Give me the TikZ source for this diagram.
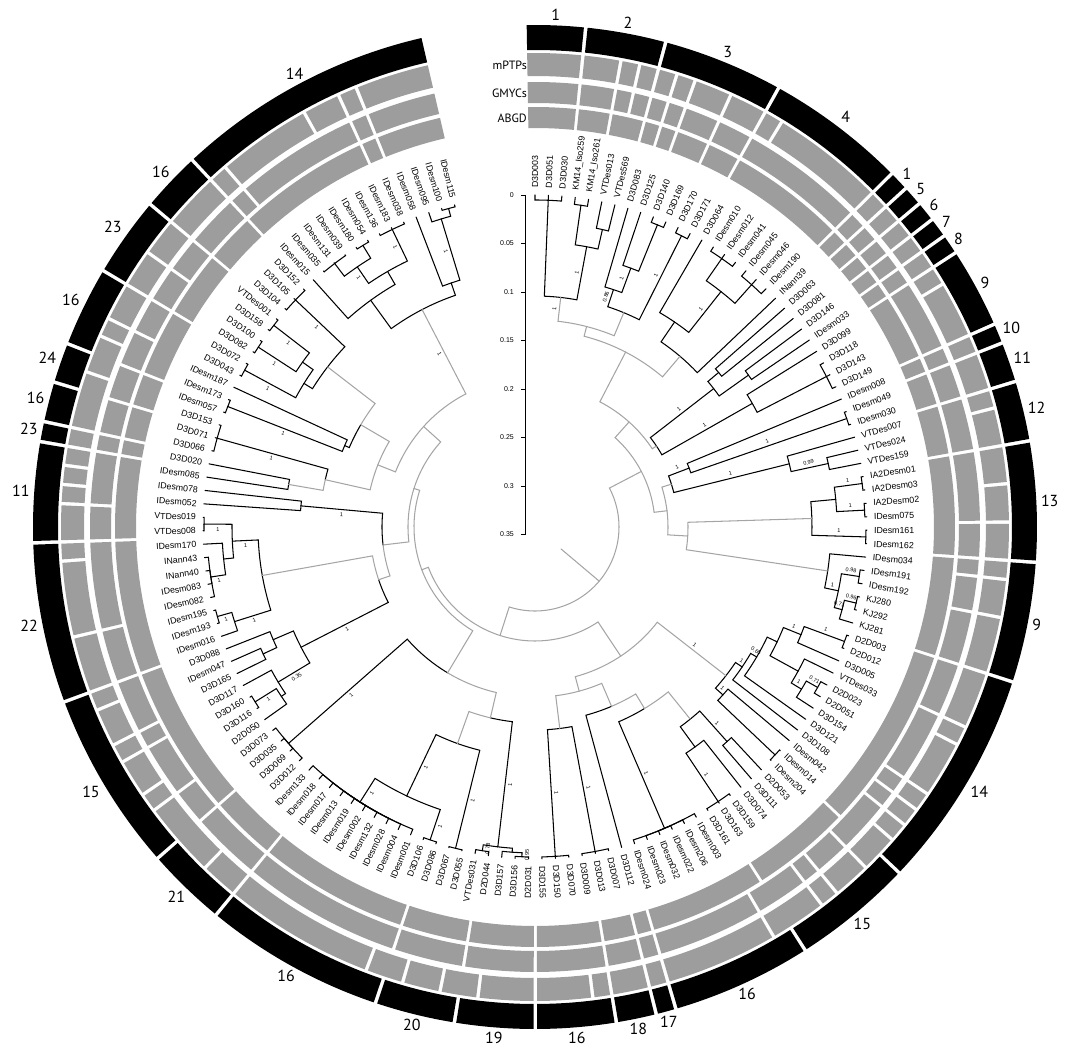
\documentclass[tikz,border=0pt]{standalone}
\usepackage{fontspec}
\setmainfont{Liberation Sans}
\newfontfamily\ptsans{PT Sans}
\definecolor{ringg}{RGB}{157,157,157}
\definecolor{brg}{RGB}{165,165,165}
\makeatletter
\def\stp{2.322}
\newcommand\inittips{\foreach \i in {1,...,150}{%
  \expandafter\xdef\csname P@t\i\endcsname{\i}%
  \expandafter\xdef\csname R@t\i\endcsname{332}%
  \expandafter\xdef\csname S@t\i\endcsname{black}}}
% \nd{name}{radius}{children}{stem colour}
\newcommand\nd[4]{%
  \global\let\nd@first\relax
  \foreach \ch in {#3}{%
    \edef\nd@p{\csname P@\ch\endcsname}%
    \ifx\nd@first\relax\xdef\nd@first{\nd@p}\fi
    \xdef\nd@last{\nd@p}}%
  \pgfmathsetmacro\nd@mid{(\nd@first+\nd@last)/2}%
  \pgfmathsetmacro\nd@ma{90-(\nd@mid-1)*\stp}%
  \foreach \ch in {#3}{%
    \edef\nd@p{\csname P@\ch\endcsname}%
    \edef\nd@r{\csname R@\ch\endcsname}%
    \edef\nd@s{\csname S@\ch\endcsname}%
    \expandafter\xdef\csname Q@\ch\endcsname{#2}%
    \pgfmathsetmacro\nd@a{90-(\nd@p-1)*\stp}%
    \draw[brw,color=\nd@s] (\nd@a:\nd@r) -- (\nd@a:#2) arc[start angle=\nd@a,end angle=\nd@ma,radius=#2];}%
  \expandafter\xdef\csname P@#1\endcsname{\nd@mid}%
  \expandafter\xdef\csname R@#1\endcsname{#2}%
  \expandafter\xdef\csname S@#1\endcsname{#4}%
}
\newcommand\supp[2]{%
  \edef\sp@p{\csname P@#1\endcsname}\edef\sp@r{\csname R@#1\endcsname}\edef\sp@q{\csname Q@#1\endcsname}%
  \pgfmathsetmacro\sp@rr{(\sp@r+\sp@q)/2}%
  \pgfmathsetmacro\sp@a{90-(\sp@p-1)*\stp+5/\sp@rr*57.3}%
  \ifdim\sp@a pt<-90pt \pgfmathsetmacro\sp@rot{\sp@a+180}\else\let\sp@rot\sp@a\fi
  \node[sval,rotate=\sp@rot] at (\sp@a:\sp@rr) {#2};}
\newcommand\rseg[5]{%
  \pgfmathsetmacro\rs@a{90-(#3-1)*\stp+0.95}%
  \pgfmathsetmacro\rs@b{90-(#4-1)*\stp-0.95}%
  \fill[#5] (\rs@a:#1) arc[start angle=\rs@a,end angle=\rs@b,radius=#1] -- (\rs@b:#2) arc[start angle=\rs@b,end angle=\rs@a,radius=#2] -- cycle;}
\newcommand\gring[3]{\foreach \u/\v in {#3}{\rseg{#1}{#2}{\u}{\v}{ringg}}}
\makeatother
\tikzset{
  brw/.style={line width=1.05pt,line cap=round},
  tiplab/.style={font=\fontsize{8.8}{9}\selectfont,inner sep=0pt},
  sval/.style={font=\fontsize{5.5}{6}\selectfont,inner sep=0pt},
  seglab/.style={font=\ptsans\fontsize{16}{16}\selectfont,inner sep=1.5pt},
  ringlab/.style={font=\ptsans\fontsize{12}{12}\selectfont,anchor=east,inner sep=0pt},
  axlab/.style={font=\fontsize{7}{7}\selectfont,anchor=east,inner sep=0pt}
}
\begin{document}
\begin{tikzpicture}[x=1pt,y=1pt]
\useasboundingbox (-535,-527) rectangle (537,527);
\inittips
% ---------------- rings
\foreach \u/\v/\lb in {1/3/1,4/7/2,8/13/3,14/20/4,21/21/1,22/22/5,23/23/6,24/24/7,25/25/8,26/29/9,30/30/10,31/32/11,33/35/12,36/41/13,42/47/9,48/58/14,59/64/15,65/71/16,72/72/17,73/74/18,75/78/16,79/82/19,83/86/20,87/95/16,96/99/21,100/108/15,109/116/22,117/121/11,122/122/23,123/124/16,125/126/24,127/130/16,131/134/23,135/137/16,138/150/14}{%
  \rseg{477}{502}{\u}{\v}{black}
  \pgfmathsetmacro\mm{90-((\u+\v)/2-1)*\stp}
  \pgfmathsetmacro\an{mod(\mm+540,360)}
  \node[seglab,anchor=\an] at (\mm:505) {\lb};}
\gring{451}{474}{1/3,4/5,6/6,7/7,8/8,9/9,10/11,12/13,14/14,15/20,21/21,22/22,23/23,24/24,25/25,26/26,27/29,30/30,31/32,33/33,34/35,36/37,38/39,40/41,42/42,43/44,45/47,48/50,51/51,52/54,55/55,56/56,57/57,58/59,60/61,62/62,63/65,66/71,72/72,73/74,75/75,76/78,79/81,82/83,84/85,86/87,88/95,96/97,98/101,102/102,103/104,105/105,106/107,108/108,109/111,112/115,116/116,117/118,119/119,120/120,121/121,122/122,123/125,126/127,128/128,129/130,131/132,133/134,135/137,138/138,139/143,144/145,146/146,147/150}
\gring{424}{445}{1/3,4/5,6/6,7/7,8/8,9/9,10/11,12/13,14/20,21/21,22/22,23/23,24/24,25/25,26/29,30/30,31/32,33/35,36/39,40/41,42/42,43/44,45/47,48/50,51/54,55/55,56/56,57/59,60/61,62/62,63/65,66/71,72/72,73/74,75/78,79/82,83/86,87/95,96/99,100/101,102/104,105/105,106/108,109/111,112/116,117/118,119/121,122/122,123/124,125/126,127/128,129/130,131/132,133/134,135/137,138/138,139/145,146/146,147/150}
\gring{399}{420}{1/3,4/5,6/7,8/8,9/9,10/11,12/13,14/20,21/21,22/22,23/23,24/24,25/25,26/29,30/30,31/32,33/35,36/41,42/47,48/58,59/64,65/71,72/72,73/74,75/78,79/82,83/86,87/95,96/99,100/108,109/116,117/121,122/122,123/124,125/126,127/130,131/134,135/137,138/145,146/146,147/150}
\node[ringlab] at (-8,462) {mPTPs};
\node[ringlab] at (-8,434) {GMYCs};
\node[ringlab] at (-8,409) {ABGD};
% ---------------- scale bar
\draw[line width=0.8pt] (-10,332) -- (-10,-8);
\foreach \d/\t in {0/0,0.05/0.05,0.1/0.1,0.15/0.15,0.2/0.2,0.25/0.25,0.3/0.3,0.35/0.35}{%
  \draw[line width=0.6pt] (-10,{332-970*\d}) -- (-14,{332-970*\d});
  \node[axlab] at (-21,{332-970*\d}) {\t};}
% ---------------- tip labels
\foreach \lab [count=\i] in {D3D003,D3D051,D3D030,KM14\_Iso259,KM14\_Iso261,VTDes013,VTDes569,D3D083,D3D125,D3D140,D3D169,D3D170,D3D171,D3D064,IDesm010,IDesm012,IDesm041,IDesm045,IDesm046,IDesm190,INann39,D3D063,D3D081,D3D146,IDesm033,D3D099,D3D118,D3D143,D3D149,IDesm008,IDesm049,IDesm030,VTDes007,VTDes024,VTDes159,IA2Desm01,IA2Desm03,IA2Desm02,IDesm075,IDesm161,IDesm162,IDesm034,IDesm191,IDesm192,KJ280,KJ292,KJ281,D2D003,D2D012,D3D005,VTDes033,D2D023,D2D051,D3D154,D3D121,D3D108,IDesm042,IDesm014,IDesm204,D2D053,D3D111,D3D074,D3D159,D3D163,D3D161,IDesm003,IDesm206,IDesm022,IDesm032,IDesm023,IDesm024,D3D112,D3D007,D3D013,D3D009,D3D070,D3D150,D3D155,D2D031,D3D156,D3D157,D2D044,VTDes031,D3D055,D3D067,D3D086,D3D106,IDesm001,IDesm004,IDesm028,IDesm132,IDesm002,IDesm019,IDesm013,IDesm017,IDesm018,IDesm133,D3D012,D3D069,D3D035,D3D073,D2D050,D3D116,D3D160,D3D117,D3D165,IDesm047,D3D088,IDesm016,IDesm193,IDesm195,IDesm082,IDesm083,INann40,INann43,IDesm170,VTDes008,VTDes019,IDesm052,IDesm078,IDesm085,D3D020,D3D066,D3D071,D3D153,IDesm057,IDesm173,IDesm187,D3D043,D3D072,D3D082,D3D100,D3D158,VTDes001,D3D104,D3D105,D3D152,IDesm015,IDesm035,IDesm131,IDesm039,IDesm180,IDesm054,IDesm136,IDesm183,IDesm038,IDesm058,IDesm095,IDesm100,IDesm115}{%
  \pgfmathsetmacro\ang{90-(\i-1)*\stp}%
  \ifdim\ang pt<-90pt
    \node[tiplab,anchor=east,rotate=\ang+180] at (\ang:339) {\lab};
  \else
    \node[tiplab,anchor=west,rotate=\ang] at (\ang:339) {\lab};
  \fi}
% ---------------- tree (top right)
\nd{nA1}{327}{t1,t2,t3}{black}
\nd{nA2}{325}{t4,t5}{black}
\nd{nA3}{305}{t6,t7}{black}
\nd{nA4}{285}{nA2,nA3}{black}
\nd{nA5}{231}{nA1,nA4}{brg}
\nd{nA6}{326}{t10,t11}{black}
\nd{nA7}{276}{t9,nA6}{black}
\nd{nA8}{250}{t8,nA7}{black}
\nd{nA9}{326}{t12,t13}{black}
\nd{nA10}{232}{nA8,nA9}{brg}
\nd{nA11}{207}{nA5,nA10}{brg}
\nd{nB1}{327}{t15,t16,t17}{black}
\nd{nB2}{325}{t18,t19,t20}{black}
\nd{nB3}{300}{nB1,nB2}{black}
\nd{nB4}{248}{t14,nB3}{black}
\nd{nB5}{224}{nB4,t21}{brg}
\nd{Y}{197}{nA11,nB5}{brg}
\nd{nC1}{328}{t27,t28,t29}{black}
\nd{nC2}{250}{t26,nC1}{black}
\nd{nC3}{262}{t24,t25}{black}
\nd{nC4}{240}{t22,t23}{black}
\nd{nC5}{226}{nC4,nC3}{black}
\nd{nCs}{146}{nC5,nC2}{brg}
\nd{N141}{141}{Y,nCs}{brg}
\nd{nD1}{330}{t31,t32}{black}
\nd{nD6}{165}{t30,nD1}{black}
\nd{nD2}{300}{t34,t35}{black}
\nd{nD3}{262}{t33,nD2}{black}
\nd{nD7}{143}{nD6,nD3}{brg}
\nd{nE1}{330}{t36,t37}{black}
\nd{nE2}{330}{t38,t39}{black}
\nd{nE3}{302}{nE1,nE2}{black}
\nd{nE4}{331}{t40,t41}{black}
\nd{nE5}{277}{nE3,nE4}{brg}
\nd{nF1}{328}{t43,t44}{black}
\nd{nF2}{330}{t45,t46}{black}
\nd{nF3}{318}{nF2,t47}{black}
\nd{nF4}{310}{nF1,nF3}{black}
\nd{nF5}{296}{t42,nF4}{brg}
\nd{N153}{153}{nE5,nF5}{brg}
\nd{N133}{133}{nD7,N153}{brg}
\nd{N120}{120}{N141,N133}{brg}
% ---------------- bottom right
\nd{nG1}{330}{t48,t49}{black}
\nd{nG2}{287}{nG1,t50}{black}
\nd{nG3}{325}{t52,t53}{black}
\nd{nG4}{312}{nG3,t54}{black}
\nd{nG5}{300}{t51,nG4}{black}
\nd{nG6}{268}{nG2,nG5}{black}
\nd{nG7}{257}{nG6,t55}{black}
\nd{nG8}{250}{nG7,t56}{black}
\nd{nG9}{331}{t58,t59}{black}
\nd{nG10}{252}{t57,nG9}{black}
\nd{nG11}{242}{nG8,nG10}{brg}
\nd{nH1}{288}{t60,t61}{black}
\nd{nH3}{330}{t63,t64,t65}{black}
\nd{nH4}{272}{t62,nH3}{black}
\nd{nH5}{247}{nH1,nH4}{brg}
\nd{nH6}{328}{t66,t67,t68,t69,t70,t71}{black}
\nd{N212}{212}{nH5,nH6}{brg}
\nd{N195}{195}{N212,t72}{brg}
\nd{nI1}{330}{t73,t74,t75}{black}
\nd{nI3}{330}{t76,t77,t78}{black}
\nd{nI4}{203}{nI1,nI3}{brg}
\nd{N170}{170}{N195,nI4}{brg}
\nd{N155}{155}{nG11,N170}{brg}
% ---------------- bottom / left
\nd{nJ1}{330}{t79,t80}{black}
\nd{nJ2}{326}{nJ1,t81}{black}
\nd{nJ3}{328}{t82,t83}{black}
\nd{nJ4}{322}{nJ2,nJ3}{black}
\nd{nK2}{331}{t84,t85}{black}
\nd{nK1}{330}{t86,t87}{black}
\nd{nK0}{326}{t88,t89,t90,t91,t92,t93,t94,t95,t96,t97}{black}
\nd{nK3}{298}{nK1,nK0}{black}
\nd{nK4}{230}{nK2,nK3}{brg}
\nd{nJK}{196}{nJ4,nK4}{brg}
\nd{nL1}{328}{t98,t99,t100,t101}{black}
\nd{nLJK}{170}{nJK,nL1}{brg}
\nd{nL2}{330}{t103,t104}{black}
\nd{nL3}{305}{t102,nL2}{black}
\nd{nL4}{300}{nL3,t105}{black}
\nd{nL5}{300}{t106,t107}{black}
\nd{nL6}{285}{nL5,t108}{black}
\nd{nL7}{263}{nL4,nL6}{black}
\nd{nM5}{330}{t110,t111}{black}
\nd{nM6}{315}{t109,nM5}{black}
\nd{nM2}{328}{t112,t113,t114,t115}{black}
\nd{nM3}{313}{nM2,t116}{black}
\nd{nM1}{331}{t117,t118}{black}
\nd{nM4}{303}{nM3,nM1}{black}
\nd{nM7}{277}{nM6,nM4}{brg}
\nd{XLM}{165}{nL7,nM7}{brg}
\nd{nM8}{235}{t119,t120}{black}
\nd{C153}{153}{XLM,nM8}{brg}
\nd{nN1}{250}{t121,t122}{brg}
\nd{nN2}{330}{t123,t124,t125}{black}
\nd{nN5}{215}{nN1,nN2}{brg}
\nd{nN3}{330}{t126,t127}{black}
\nd{nN4}{207}{nN3,t128}{black}
\nd{nO1}{330}{t129,t130}{black}
\nd{nO2}{330}{t131,t132}{black}
\nd{nO4}{330}{t133,t134}{black}
\nd{nO5}{285}{nO2,nO4}{black}
\nd{nO3}{272}{nO1,nO5}{black}
\nd{nO6}{330}{t135,t136,t137}{black}
\nd{nO7}{262}{nO3,nO6}{brg}
\nd{N202}{202}{nN4,nO7}{brg}
\nd{Y169}{169}{nN5,N202}{brg}
\nd{nP1}{331}{t139,t140,t141}{black}
\nd{nP2}{330}{t142,t143}{black}
\nd{nP3}{315}{nP1,nP2}{black}
\nd{nP4}{330}{t144,t145,t146}{black}
\nd{nP5}{295}{nP3,nP4}{black}
\nd{nP6}{280}{t138,nP5}{black}
\nd{nP7}{330}{t149,t150}{black}
\nd{nP8}{322}{t148,nP7}{black}
\nd{nP9}{258}{t147,nP8}{black}
\nd{nP10}{245}{nP6,nP9}{brg}
\nd{Q150}{150}{Y169,nP10}{brg}
\nd{A126}{127}{C153,Q150}{brg}
\nd{L121}{121}{nLJK,A126}{brg}
\nd{RB}{114}{N155,L121}{brg}
\nd{ROOT}{84}{N120,RB}{brg}
\pgfmathsetmacro\ra{90-(\csname P@ROOT\endcsname-1)*\stp}
\draw[brw,brg] (\ra:84) -- (\ra:34);
% ---------------- support values
\supp{nA5}{1}\supp{nA4}{1}\supp{nA7}{1}\supp{nA8}{0.86}\supp{nA9}{1}\supp{nB3}{1}
\supp{nC5}{1}\supp{nC2}{1}
\supp{nD6}{1}\supp{nD1}{1}\supp{nD2}{0.99}\supp{nD3}{1}\supp{nE1}{1}\supp{nE2}{1}\supp{nE4}{1}
\supp{nF1}{0.98}\supp{nF2}{0.96}\supp{nF3}{0.71}\supp{nF4}{1}
\supp{nG1}{1}\supp{nG2}{1}\supp{nG3}{0.71}\supp{nG4}{1}\supp{nG7}{0.65}\supp{nG8}{1}\supp{nG10}{1}\supp{nG11}{1}
\supp{nH1}{1}\supp{nH3}{1}\supp{nH6}{1}\supp{nI1}{1}\supp{nI3}{1}
\supp{nJ1}{0.95}\supp{nJ3}{0.78}\supp{nJ4}{1}\supp{nK2}{1}\supp{nK1}{1}\supp{nK0}{1}\supp{nK3}{1}
\supp{nL1}{1}\supp{nL2}{1}\supp{nL4}{0.35}\supp{nL7}{1}
\supp{nM1}{1}\supp{nM2}{1}\supp{nM4}{1}\supp{nM5}{1}\supp{nM6}{1}\supp{nM8}{1}
\supp{nN2}{1}\supp{nN3}{1}\supp{nO1}{1}\supp{nO2}{1}\supp{nO4}{1}\supp{nO6}{1}
\supp{nP3}{1}\supp{nP4}{1}\supp{nP8}{1}\supp{nP10}{1}
\end{tikzpicture}
\end{document}
